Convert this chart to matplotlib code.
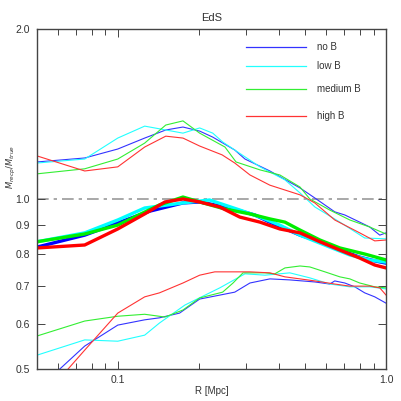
import matplotlib
matplotlib.use("Agg")
import matplotlib.pyplot as plt
from matplotlib.ticker import FixedLocator, NullLocator, NullFormatter

plt.rcParams['font.family'] = ['Liberation Sans', 'DejaVu Sans']

# mass ratio profiles, three samples per field strength
# upper group
r_noB_hi = [0.050, 0.0753, 0.100, 0.126, 0.151, 0.175, 0.202, 0.226, 0.273, 0.298, 0.369, 0.478, 0.543, 0.644, 0.702, 0.798, 0.870, 0.948, 1.0]
m_noB_hi = [1.163, 1.182, 1.226, 1.282, 1.325, 1.341, 1.319, 1.287, 1.221, 1.177, 1.121, 1.046, 1.004, 0.949, 0.937, 0.910, 0.892, 0.863, 0.871]
r_lowB_hi = [0.050, 0.0753, 0.100, 0.126, 0.151, 0.175, 0.202, 0.226, 0.246, 0.273, 0.339, 0.420, 0.478, 0.543, 0.673, 0.833, 1.0]
m_lowB_hi = [1.158, 1.177, 1.282, 1.346, 1.325, 1.308, 1.336, 1.308, 1.262, 1.221, 1.140, 1.081, 1.025, 0.968, 0.910, 0.853, 0.850]
r_medB_hi = [0.050, 0.0753, 0.100, 0.126, 0.151, 0.175, 0.202, 0.251, 0.276, 0.339, 0.402, 0.478, 0.520, 0.617, 0.733, 0.870, 1.0]
m_medB_hi = [1.108, 1.131, 1.177, 1.256, 1.352, 1.375, 1.308, 1.236, 1.163, 1.126, 1.103, 1.050, 1.000, 0.956, 0.918, 0.892, 0.867]
r_highB_hi = [0.050, 0.0753, 0.100, 0.126, 0.151, 0.175, 0.202, 0.245, 0.273, 0.311, 0.369, 0.478, 0.543, 0.644, 0.798, 0.908, 1.0]
m_highB_hi = [1.192, 1.121, 1.140, 1.236, 1.292, 1.282, 1.241, 1.197, 1.158, 1.103, 1.058, 1.017, 0.984, 0.918, 0.871, 0.843, 0.846]

# middle group (thick)
r_noB_mid = [0.050, 0.0753, 0.100, 0.132, 0.175, 0.202, 0.262, 0.324, 0.369, 0.478, 0.567, 0.673, 0.798, 0.908, 1.0]
m_noB_mid = [0.822, 0.863, 0.907, 0.952, 0.984, 0.988, 0.964, 0.937, 0.910, 0.863, 0.840, 0.812, 0.789, 0.777, 0.770]
r_lowB_mid = [0.050, 0.0753, 0.100, 0.126, 0.175, 0.220, 0.285, 0.339, 0.402, 0.478, 0.617, 0.733, 0.870, 1.0]
m_lowB_mid = [0.840, 0.871, 0.918, 0.964, 0.984, 0.996, 0.956, 0.929, 0.899, 0.863, 0.822, 0.796, 0.780, 0.773]
r_medB_mid = [0.050, 0.0753, 0.100, 0.143, 0.175, 0.202, 0.251, 0.311, 0.369, 0.420, 0.478, 0.567, 0.673, 0.833, 1.0]
m_medB_mid = [0.840, 0.867, 0.899, 0.976, 1.008, 0.988, 0.960, 0.941, 0.922, 0.910, 0.881, 0.846, 0.819, 0.799, 0.780]
r_highB_mid = [0.050, 0.0753, 0.100, 0.126, 0.150, 0.175, 0.202, 0.240, 0.285, 0.339, 0.402, 0.478, 0.567, 0.673, 0.798, 0.908, 1.0]
m_highB_mid = [0.819, 0.829, 0.885, 0.941, 0.988, 1.000, 0.988, 0.968, 0.929, 0.910, 0.885, 0.871, 0.840, 0.812, 0.786, 0.764, 0.755]

# lower group
r_noB_lo = [0.050, 0.0753, 0.100, 0.126, 0.143, 0.170, 0.202, 0.273, 0.311, 0.369, 0.438, 0.543, 0.617, 0.644, 0.702, 0.765, 0.833, 0.908, 1.0]
m_noB_lo = [0.459, 0.549, 0.598, 0.611, 0.616, 0.628, 0.665, 0.684, 0.710, 0.722, 0.719, 0.713, 0.707, 0.716, 0.710, 0.699, 0.682, 0.671, 0.654]
r_lowB_lo = [0.050, 0.0753, 0.100, 0.126, 0.143, 0.178, 0.240, 0.298, 0.354, 0.438, 0.520, 0.617, 0.733, 0.870, 1.0]
m_lowB_lo = [0.529, 0.563, 0.560, 0.574, 0.603, 0.649, 0.696, 0.737, 0.733, 0.740, 0.725, 0.707, 0.699, 0.699, 0.693]
r_medB_lo = [0.050, 0.0753, 0.100, 0.126, 0.150, 0.175, 0.202, 0.246, 0.269, 0.293, 0.354, 0.385, 0.420, 0.478, 0.520, 0.592, 0.673, 0.733, 0.798, 0.908, 1.0]
m_medB_lo = [0.572, 0.608, 0.620, 0.625, 0.618, 0.636, 0.668, 0.684, 0.710, 0.740, 0.740, 0.737, 0.755, 0.761, 0.758, 0.743, 0.728, 0.722, 0.710, 0.699, 0.696]
r_highB_lo = [0.050, 0.0753, 0.100, 0.126, 0.143, 0.175, 0.202, 0.230, 0.311, 0.369, 0.420, 0.478, 0.543, 0.644, 0.733, 0.870, 0.948, 1.0]
m_highB_lo = [0.433, 0.540, 0.628, 0.671, 0.682, 0.710, 0.733, 0.743, 0.743, 0.740, 0.728, 0.722, 0.716, 0.707, 0.701, 0.701, 0.696, 0.676]

labels = ['no B', 'low B', 'medium B', 'high B']
colors = ['#3333ff', '#22ffff', '#33ee33', '#ff3333']
thick_colors = ['#0000ff', '#00ffff', '#00ee00', '#ff0000']

fig = plt.figure(figsize=(4.01, 4.01), dpi=100)
ax = fig.add_axes([0.0923, 0.0798, 0.8703, 0.8479])
ax.set_xscale('log')
ax.set_yscale('log')

ax.axhline(1.0, color='#999999', lw=1.2, ls=(0, (7, 3, 2, 3)), zorder=1)

hi = [(r_noB_hi, m_noB_hi), (r_lowB_hi, m_lowB_hi), (r_medB_hi, m_medB_hi), (r_highB_hi, m_highB_hi)]
mid = [(r_noB_mid, m_noB_mid), (r_lowB_mid, m_lowB_mid), (r_medB_mid, m_medB_mid), (r_highB_mid, m_highB_mid)]
lo = [(r_noB_lo, m_noB_lo), (r_lowB_lo, m_lowB_lo), (r_medB_lo, m_medB_lo), (r_highB_lo, m_highB_lo)]

for i in range(4):
    ax.plot(hi[i][0], hi[i][1], color=colors[i], lw=0.8)
    ax.plot(lo[i][0], lo[i][1], color=colors[i], lw=0.8)
for i in range(4):
    ax.plot(mid[i][0], mid[i][1], color=thick_colors[i], lw=2.4)

# hand placed legend
leg_y = [0.947, 0.891, 0.824, 0.744]
for i in range(4):
    ax.plot([0.599, 0.771], [leg_y[i], leg_y[i]], color=colors[i], lw=0.9,
            transform=ax.transAxes)
    ax.text(0.802, leg_y[i], labels[i], transform=ax.transAxes, fontsize=7,
            va='center', ha='left', color='#333333')

ax.set_xlim(0.05, 1.0)
ax.set_ylim(0.5, 2.0)

ax.xaxis.set_major_locator(FixedLocator([0.1, 1.0]))
ax.xaxis.set_minor_locator(FixedLocator([0.06, 0.07, 0.08, 0.09, 0.2, 0.3, 0.4, 0.5, 0.6, 0.7, 0.8, 0.9]))
ax.xaxis.set_minor_formatter(NullFormatter())
ax.set_xticklabels(['0.1', '1.0'])
ax.yaxis.set_major_locator(FixedLocator([0.5, 0.6, 0.7, 0.8, 0.9, 1.0, 2.0]))
ax.yaxis.set_minor_locator(NullLocator())
ax.set_yticklabels(['0.5', '0.6', '0.7', '0.8', '0.9', '1.0', '2.0'])

ax.tick_params(which='both', direction='in', top=True, right=True,
               labelsize=7.5, colors='#444444', labelcolor='#333333', width=0.7)
ax.tick_params(which='major', length=6)
ax.tick_params(axis='y', which='major', pad=5)
ax.tick_params(axis='x', which='major', pad=4)
ax.tick_params(which='minor', length=4)
for s in ax.spines.values():
    s.set_color('#444444')
    s.set_linewidth(1.0)

ax.set_title('EdS', fontsize=8, color='#333333', pad=6)
ax.set_xlabel('R [Mpc]', fontsize=7, color='#333333', labelpad=1)
fig.text(0.028, 0.585, r'$M_{recp}/M_{true}$', rotation=90, fontsize=6,
         color='#333333', ha='center', va='center')

fig.savefig('out.png', dpi=100)
